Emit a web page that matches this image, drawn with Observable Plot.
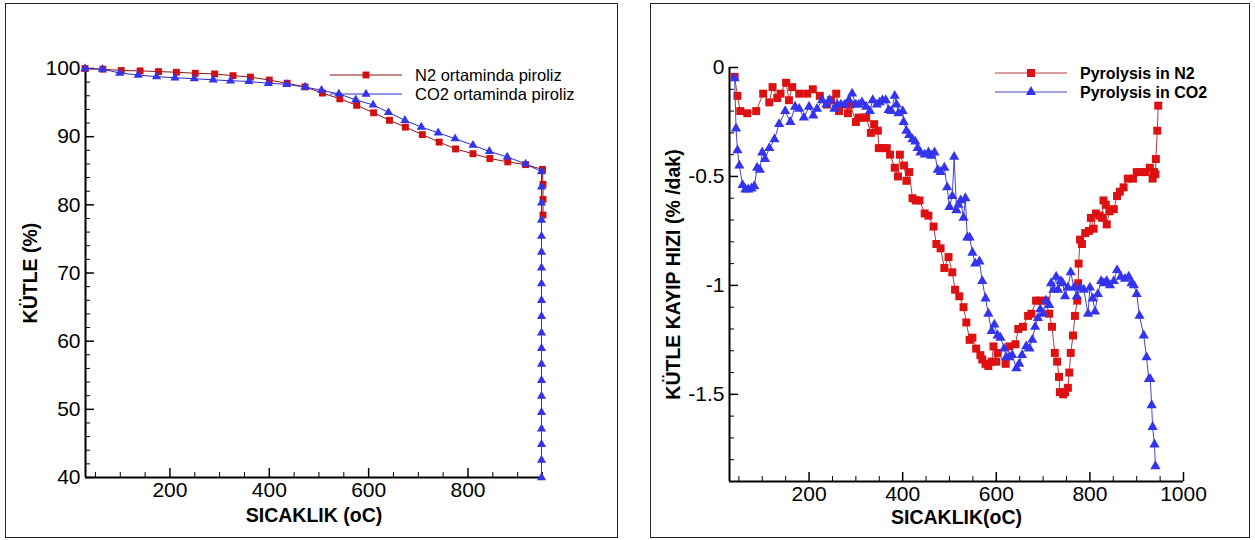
<!DOCTYPE html>
<html><head><meta charset="utf-8">
<script src="https://cdn.jsdelivr.net/npm/d3@7"></script>
<script src="https://cdn.jsdelivr.net/npm/@observablehq/plot@0.6"></script>
<style>
body{margin:0;background:#fff;font-family:"Liberation Sans",Arial,sans-serif;}
#wrap{position:relative;width:1255px;height:540px;overflow:hidden;}
.frame{position:absolute;border:1px solid #222;box-sizing:border-box;}
.pane{position:absolute;top:0;}
#legend{position:absolute;left:0;top:0;pointer-events:none;}
</style></head><body>
<div id="wrap">
  <div class="frame" style="left:5px;top:3px;width:613px;height:535px"></div>
  <div class="frame" style="left:650px;top:3px;width:600px;height:535px"></div>
  <div id="left" class="pane" style="left:0"></div>
  <div id="right" class="pane" style="left:625px"></div>
  <svg id="legend" width="1255" height="540"></svg>
</div>
<script>
// ---------- Left chart: mass (%) vs temperature ----------
const leftSeriesNames = ["N2 ortaminda piroliz", "CO2 ortaminda piroliz"];
const leftXLabel = "SICAKLIK (oC)";
const leftYLabel = "KÜTLE (%)";
const leftXTicks = [200, 400, 600, 800];
const leftYTicks = [40, 50, 60, 70, 80, 90, 100];

const n2Temp = [29, 65, 102, 140, 177, 213, 251, 290, 327, 362, 400, 436, 472, 507, 542, 576, 610, 642, 674, 708, 742, 775, 810, 844, 880, 916, 950, 951, 951, 951];
const n2Mass = [100, 99.9, 99.7, 99.65, 99.55, 99.45, 99.3, 99.2, 98.95, 98.74, 98.3, 97.83, 97.3, 96.4, 95.55, 94.6, 93.5, 92.4, 91.4, 90.3, 89.2, 88.2, 87.5, 86.8, 86.3, 85.9, 85.2, 83.0, 80.8, 78.5];

const co2Temp = [29, 64, 99, 136, 173, 210, 249, 287, 322, 359, 398, 435, 472, 505, 540, 574, 609, 640, 673, 706, 740, 774, 810, 843, 879, 916, 948, 948, 948, 948, 948, 948, 948, 948, 948, 948, 948, 948, 948, 948, 948, 948, 948, 948, 948, 948];
const co2Mass = [100, 99.9, 99.34, 99.04, 98.8, 98.64, 98.5, 98.34, 98.2, 98.1, 97.83, 97.68, 97.28, 96.82, 96.27, 95.4, 94.65, 93.55, 92.4, 91.4, 90.57, 89.7, 88.75, 87.84, 87.03, 86.0, 84.86, 82.65, 80.28, 77.76, 75.4, 73.07, 70.75, 68.43, 66.0, 63.64, 61.22, 58.95, 56.63, 54.26, 51.94, 49.57, 47.15, 44.88, 42.56, 40.0];

// ---------- Right chart: mass loss rate vs temperature ----------
const rightSeriesNames = ["Pyrolysis in N2", "Pyrolysis in CO2"];
const rightXLabel = "SICAKLIK(oC)";
const rightYLabel = "KÜTLE KAYIP HIZI (% /dak)";
const rightXTicks = [200, 400, 600, 800, 1000];
const rightYTicks = [0, -0.5, -1, -1.5];

const n2RateT = [41,47,53,68,87,102,115,122,132,139,151,157,164,179,196,208,223,238,247,258,264,281,283,288,300,306,315,322,332,339,347,349,357,366,373,383,390,394,403,408,414,421,428,436,447,455,466,472,481,489,498,506,512,521,530,536,543,549,557,566,570,577,583,590,594,600,603,620,628,641,647,657,668,675,685,694,705,713,719,725,730,734,736,743,747,753,756,759,764,768,773,775,776,779,783,790,798,802,808,813,821,826,829,834,836,842,851,858,864,872,881,892,900,909,919,928,934,937,940,941,944,946];
const n2Rate = [-0.043,-0.13,-0.20,-0.21,-0.20,-0.12,-0.16,-0.09,-0.14,-0.12,-0.07,-0.15,-0.09,-0.12,-0.12,-0.10,-0.13,-0.17,-0.15,-0.12,-0.20,-0.17,-0.21,-0.17,-0.25,-0.23,-0.23,-0.23,-0.30,-0.26,-0.29,-0.37,-0.37,-0.37,-0.40,-0.46,-0.50,-0.40,-0.45,-0.52,-0.48,-0.60,-0.61,-0.61,-0.67,-0.68,-0.73,-0.81,-0.83,-0.92,-0.87,-0.94,-1.02,-1.05,-1.10,-1.17,-1.25,-1.24,-1.29,-1.32,-1.34,-1.36,-1.37,-1.35,-1.28,-1.35,-1.31,-1.36,-1.28,-1.27,-1.20,-1.19,-1.14,-1.13,-1.07,-1.07,-1.07,-1.13,-1.19,-1.31,-1.35,-1.42,-1.49,-1.50,-1.49,-1.47,-1.40,-1.31,-1.23,-1.14,-1.07,-0.99,-0.90,-0.79,-0.81,-0.76,-0.75,-0.69,-0.74,-0.67,-0.68,-0.69,-0.61,-0.63,-0.72,-0.66,-0.65,-0.59,-0.57,-0.55,-0.51,-0.51,-0.48,-0.48,-0.48,-0.46,-0.51,-0.48,-0.49,-0.42,-0.29,-0.175];

const co2RateT = [41,44,47,51,58,64,70,77,83,89,95,100,106,115,126,136,149,160,170,179,189,200,209,217,228,237,244,254,260,268,277,285,292,300,306,313,322,330,336,345,351,357,364,370,376,383,387,391,400,402,408,414,421,427,432,438,447,455,461,468,475,481,489,495,500,506,510,515,519,524,530,534,538,543,549,555,564,570,577,583,590,596,603,609,617,621,628,634,643,649,655,664,671,677,683,689,694,700,706,713,717,722,728,732,738,742,747,753,759,766,772,779,787,796,800,806,811,817,824,830,836,843,851,858,866,875,883,889,894,900,906,915,921,926,929,932,934,938,940];
const co2Rate = [-0.05,-0.28,-0.38,-0.45,-0.54,-0.56,-0.56,-0.555,-0.545,-0.46,-0.47,-0.39,-0.42,-0.37,-0.33,-0.26,-0.20,-0.25,-0.18,-0.19,-0.23,-0.18,-0.22,-0.19,-0.15,-0.17,-0.15,-0.19,-0.17,-0.17,-0.17,-0.15,-0.12,-0.17,-0.17,-0.16,-0.18,-0.20,-0.15,-0.17,-0.16,-0.15,-0.15,-0.195,-0.20,-0.13,-0.17,-0.21,-0.20,-0.25,-0.29,-0.31,-0.33,-0.34,-0.37,-0.39,-0.40,-0.39,-0.405,-0.39,-0.47,-0.48,-0.46,-0.55,-0.64,-0.59,-0.41,-0.655,-0.63,-0.61,-0.69,-0.60,-0.78,-0.78,-0.85,-0.90,-0.89,-0.98,-1.06,-1.13,-1.21,-1.18,-1.23,-1.24,-1.29,-1.33,-1.33,-1.32,-1.38,-1.36,-1.32,-1.28,-1.29,-1.25,-1.19,-1.15,-1.11,-1.13,-1.07,-1.09,-0.99,-1.02,-0.96,-1.02,-0.98,-0.99,-1.05,-1.01,-0.94,-1.01,-1.05,-1.01,-1.02,-1.13,-1.01,-1.06,-1.12,-1.04,-0.98,-0.99,-0.98,-1.00,-0.98,-0.93,-0.96,-0.97,-0.96,-0.99,-1.00,-1.04,-1.14,-1.23,-1.33,-1.43,-1.43,-1.55,-1.65,-1.73,-1.83];

const FONT = "'Liberation Sans', Arial, sans-serif";
const toRows = (xs, ys) => xs.map((x, i) => ({x, y: ys[i]}));

function chart(o) {
  const w = o.width - o.ml - o.mr, h = o.height - o.mt - o.mb;
  const marks = [
    Plot.ruleY([o.yDomain[0]], {stroke: "#000", strokeWidth: 2}),
    Plot.ruleX([o.xDomain[0]], {stroke: "#000", strokeWidth: 2}),
    Plot.tickX(o.xMinor, {insetTop: h - 5, stroke: "#000"}),
    Plot.tickX(o.xMajor, {insetTop: h - 9, stroke: "#000", strokeWidth: 1.5}),
    Plot.tickY(o.yMinor, {insetRight: w - 5, stroke: "#000"}),
    Plot.tickY(o.yMajor, {insetRight: w - 9, stroke: "#000", strokeWidth: 1.5}),
    Plot.axisX({ticks: o.xMajor, tickSize: 0, tickPadding: 5, fontSize: 21, tickFormat: d => String(d), label: null}),
    Plot.axisY({ticks: o.yMajor, tickSize: 0, tickPadding: 5, fontSize: 21, tickFormat: d => String(d), label: null}),
    Plot.text([o.xLabel], {text: d => d, frameAnchor: "bottom", dy: o.xLabelDy, textAnchor: "middle", fontWeight: "bold", fontSize: 19.5}),
    Plot.text([o.yLabel], {text: d => d, frameAnchor: "left", dx: o.yLabelDx, rotate: -90, textAnchor: "middle", fontWeight: "bold", fontSize: 19.5})
  ];
  for (const s of o.series) {
    marks.push(Plot.line(s.rows, {x: "x", y: "y", stroke: s.line, strokeWidth: 1}));
    marks.push(Plot.dot(s.rows, {x: "x", y: "y", symbol: s.symbol, r: s.r, fill: s.fill, stroke: "none"}));
  }
  return Plot.plot({
    width: o.width, height: o.height,
    marginLeft: o.ml, marginRight: o.mr, marginTop: o.mt, marginBottom: o.mb,
    x: {domain: o.xDomain, label: null},
    y: {domain: o.yDomain, label: null},
    style: {fontFamily: FONT, background: "transparent", color: "#000", overflow: "visible"},
    marks
  });
}

const leftStyles = [
  {line: "#9a0f0f", fill: "#d01010", symbol: "square", r: 3.9},
  {line: "#2a2ad0", fill: "#3535e8", symbol: "triangle", r: 3.4}
];
const rightStyles = [
  {line: "#b83a3a", fill: "#dd1111", symbol: "square", r: 4.5},
  {line: "#4646c8", fill: "#3434ee", symbol: "triangle", r: 3.8}
];

const leftChart = chart({
  width: 625, height: 540, ml: 85, mr: 83, mt: 68, mb: 63,
  xDomain: [30, 950], yDomain: [40, 100],
  xMajor: leftXTicks, xMinor: d3.range(50, 951, 50).filter(v => !leftXTicks.includes(v)),
  yMajor: leftYTicks, yMinor: d3.range(42, 100, 2).filter(v => !leftYTicks.includes(v)),
  xLabel: leftXLabel, yLabel: leftYLabel, xLabelDy: 44, yLabelDx: -55,
  series: [
    {rows: toRows(n2Temp, n2Mass), ...leftStyles[0]},
    {rows: toRows(co2Temp, co2Mass), ...leftStyles[1]}
  ]
});
document.getElementById("left").appendChild(leftChart);

const rightChart = chart({
  width: 630, height: 540, ml: 104, mr: 72, mt: 67, mb: 59,
  xDomain: [30, 1000], yDomain: [-1.9, 0],
  xMajor: rightXTicks, xMinor: d3.range(50, 1000, 50).filter(v => !rightXTicks.includes(v)),
  yMajor: rightYTicks, yMinor: d3.range(-19, 0, 1).map(v => v / 10).filter(v => !rightYTicks.includes(v)),
  xLabel: rightXLabel, yLabel: rightYLabel, xLabelDy: 42, yLabelDx: -56,
  series: [
    {rows: toRows(n2RateT, n2Rate), ...rightStyles[0]},
    {rows: toRows(co2RateT, co2Rate), ...rightStyles[1]}
  ]
});
document.getElementById("right").appendChild(rightChart);

// ---------- Legends ----------
const lg = d3.select("#legend");
function legend(x0, x1, ys, names, styles, bold, fs) {
  names.forEach((name, i) => {
    const y = ys[i], s = styles[i], mx = (x0 + x1) / 2;
    lg.append("line").attr("x1", x0).attr("x2", x1).attr("y1", y).attr("y2", y)
      .attr("stroke", s.line).attr("stroke-width", 1);
    lg.append("path").attr("transform", `translate(${mx},${y})`)
      .attr("d", d3.symbol(s.symbol === "square" ? d3.symbolSquare : d3.symbolTriangle, Math.PI * s.r * s.r)())
      .attr("fill", s.fill);
    lg.append("text").attr("x", x1 + 13).attr("y", y).attr("dy", "0.35em")
      .attr("font-family", FONT).attr("font-size", fs)
      .attr("font-weight", bold ? "bold" : "normal").text(name);
  });
}
legend(330, 402, [75, 94], leftSeriesNames, leftStyles, false, 16.5);
legend(995, 1067, [73, 92], rightSeriesNames, rightStyles, true, 16);
</script>
</body></html>
